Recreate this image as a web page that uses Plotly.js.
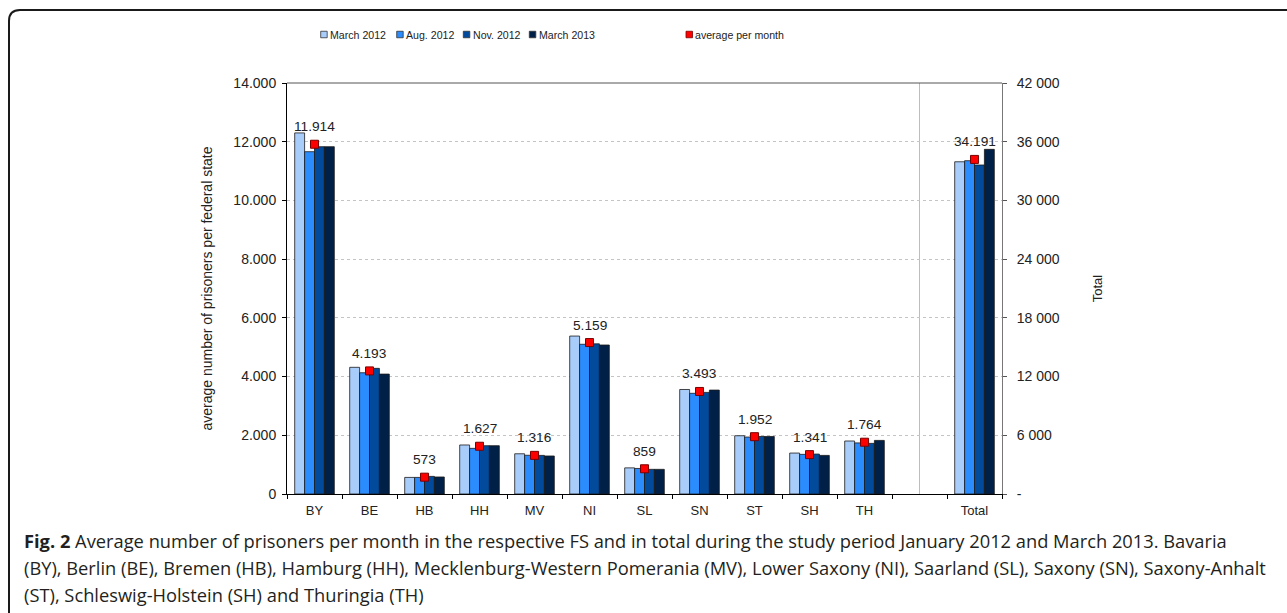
<!DOCTYPE html>
<html>
<head>
<meta charset="utf-8">
<script src="https://cdn.plot.ly/plotly-3.0.1.min.js"></script>
<style>html,body{margin:0;padding:0;background:#fff;}#chart{width:1287px;height:613px;}</style>
</head>
<body>
<div id="chart"></div>
<script>
// ---- data ----
const states = ['BY','BE','HB','HH','MV','NI','SL','SN','ST','SH','TH'];
const seriesNames = ['March 2012','Aug. 2012','Nov. 2012','March 2013'];
const avgName = 'average per month';
const march2012 = [12300, 4315, 565, 1670, 1370, 5380, 890, 3560, 1985, 1395, 1805];
const aug2012   = [11660, 4130, 565, 1555, 1320, 5100, 870, 3430, 1940, 1350, 1740];
const nov2012   = [11830, 4280, 600, 1645, 1315, 5115, 840, 3460, 1960, 1360, 1725];
const march2013 = [11830, 4085, 580, 1645, 1295, 5075, 840, 3540, 1960, 1315, 1825];
const avgPerMonth = [11914, 4193, 573, 1627, 1316, 5159, 859, 3493, 1952, 1341, 1764];
const totalLabel = 'Total';
const totalSeries = [33950, 34060, 33620, 35220]; // March 2012, Aug. 2012, Nov. 2012, March 2013
const totalAvg = 34191;
const leftTickVals = [0, 2000, 4000, 6000, 8000, 10000, 12000, 14000];
const leftTickText = ['0', '2.000', '4.000', '6.000', '8.000', '10.000', '12.000', '14.000'];
const rightTickVals = [0, 6000, 12000, 18000, 24000, 30000, 36000, 42000];
const rightTickText = ['-', '6 000', '12 000', '18 000', '24 000', '30 000', '36 000', '42 000'];
const captionLines = [
  '<b>Fig. 2</b> Average number of prisoners per month in the respective FS and in total during the study period January 2012 and March 2013. Bavaria',
  '(BY), Berlin (BE), Bremen (HB), Hamburg (HH), Mecklenburg-Western Pomerania (MV), Lower Saxony (NI), Saarland (SL), Saxony (SN), Saxony-Anhalt',
  '(ST), Schleswig-Holstein (SH) and Thuringia (TH)'
];

// ---- style ----
const colors = ['#a9cdfb', '#2b8cfd', '#024b9c', '#002047'];
const avgColor = '#ff0000', avgEdge = '#7a0000';
const stateSeries = [march2012, aug2012, nov2012, march2013];

const fmt = n => String(n).replace(/\B(?=(\d{3})+(?!\d))/g, '.');

const xState = states.map((_, i) => i);
const xTotal = states.length + 1;
const allTickVals = xState.concat([xTotal]);
const allTickText = states.concat([totalLabel]);
const boundaries = [];
for (let i = 0; i <= xTotal + 1; i++) boundaries.push(i - 0.5);

const traces = [];
stateSeries.forEach((vals, k) => {
  traces.push({
    type: 'bar', x: xState, y: vals, name: seriesNames[k], yaxis: 'y',
    offsetgroup: 'g' + k, showlegend: false,
    marker: {color: colors[k], line: {color: '#1a1a1a', width: 0.8}},
    hoverinfo: 'y+name'
  });
});
totalSeries.forEach((v, k) => {
  traces.push({
    type: 'bar', x: [xTotal], y: [v], name: seriesNames[k], yaxis: 'y2',
    offsetgroup: 'g' + k, showlegend: false,
    marker: {color: colors[k], line: {color: '#1a1a1a', width: 0.8}},
    hoverinfo: 'y+name'
  });
});
const avgMarker = {symbol: 'square', size: 8, color: avgColor, line: {color: avgEdge, width: 1}};
traces.push({
  type: 'scatter', mode: 'markers', x: xState, y: avgPerMonth, yaxis: 'y',
  name: avgName, showlegend: false, marker: avgMarker
});
traces.push({
  type: 'scatter', mode: 'markers', x: [xTotal], y: [totalAvg], yaxis: 'y2',
  name: avgName, showlegend: false, marker: avgMarker
});

const L = 287, R = 1002, T = 83, B = 494;
const px2x = p => (p - L) / (R - L);
const py2y = p => (B - p) / (B - T);

const annotations = [];
const shapes = [];
avgPerMonth.forEach((v, i) => {
  annotations.push({x: xState[i], y: v, xref: 'x', yref: 'y', text: fmt(v), showarrow: false,
    yanchor: 'middle', yshift: 17.5, font: {size: 13.7, color: '#222'}});
});
annotations.push({x: xTotal, y: totalAvg, xref: 'x', yref: 'y2', text: fmt(totalAvg), showarrow: false,
  yanchor: 'middle', yshift: 17.5, font: {size: 13.7, color: '#222'}});

// caption
const capY = [540, 567, 594];
captionLines.forEach((t, i) => {
  annotations.push({x: px2x(22), y: py2y(capY[i]), xref: 'paper', yref: 'paper', text: t,
    showarrow: false, xanchor: 'left', yanchor: 'middle', align: 'left',
    font: {family: 'Open Sans, sans-serif', size: 18.3, color: '#231f20'}});
});

// legend (drawn as key boxes + labels, like the original)
const legendLeft = [320.7, 396.7, 463.3, 529.3, 686];
const legendCY = 34.5, box = 6.5;
const legendNames = seriesNames.concat([avgName]);
const legendFill = colors.concat([avgColor]);
const legendEdge = ['#333', '#333', '#333', '#333', avgEdge];
legendNames.forEach((nm, k) => {
  const x0 = legendLeft[k];
  shapes.push({type: 'rect', xref: 'paper', yref: 'paper',
    x0: px2x(x0), x1: px2x(x0 + box), y0: py2y(legendCY + box / 2), y1: py2y(legendCY - box / 2),
    fillcolor: legendFill[k], line: {color: legendEdge[k], width: 0.8}});
  annotations.push({x: px2x(x0 + box + 0.8), y: py2y(legendCY), xref: 'paper', yref: 'paper', text: nm,
    showarrow: false, xanchor: 'left', yanchor: 'middle', font: {size: 10.6, color: '#222'}});
});

// frame lines
shapes.push({type: 'line', xref: 'paper', yref: 'paper', x0: 0, x1: 1, y0: 1, y1: 1, line: {color: '#555', width: 1}});
shapes.push({type: 'line', xref: 'x', yref: 'paper', x0: states.length, x1: states.length, y0: 0, y1: 1,
  line: {color: '#bdbdbd', width: 1}, layer: 'below'});
shapes.push({type: 'path', xref: 'paper', yref: 'paper', layer: 'above',
  path: `M ${px2x(9)},${py2y(640)} L ${px2x(9)},${py2y(21)} Q ${px2x(9)},${py2y(10)} ${px2x(20)},${py2y(10)} L ${px2x(1300)},${py2y(10)}`,
  line: {color: '#1a1a1a', width: 2}});

const layout = {
  width: 1287, height: 613,
  margin: {l: L, r: 1287 - R, t: T, b: 613 - B, pad: 0},
  paper_bgcolor: '#fff', plot_bgcolor: '#fff',
  font: {family: 'Liberation Sans, Arial, sans-serif', size: 14, color: '#222'},
  barmode: 'group', bargap: 0.28, bargroupgap: 0,
  showlegend: false,
  xaxis: {
    range: [-0.5, xTotal + 0.5], tickmode: 'array', tickvals: allTickVals, ticktext: allTickText,
    ticks: 'outside', ticklen: 4, tickcolor: 'rgba(0,0,0,0)', tickfont: {size: 13},
    minor: {tickmode: 'array', tickvals: boundaries, ticks: 'outside', ticklen: 4, tickcolor: '#000', showgrid: false},
    showline: true, linecolor: '#000', linewidth: 1, mirror: false,
    showgrid: false, zeroline: false, fixedrange: true
  },
  yaxis: {
    range: [0, 14000], tickmode: 'array', tickvals: leftTickVals, ticktext: leftTickText,
    ticks: 'outside', ticklen: 4, tickcolor: '#000', tickfont: {size: 14}, ticklabelstandoff: 3,
    showline: true, linecolor: '#000', linewidth: 1,
    showgrid: true, gridcolor: '#c4c4c4', griddash: 'dot', gridwidth: 1, zeroline: false,
    title: {text: 'average number of prisoners per federal state', font: {size: 14, color: '#222'}, standoff: 17}
  },
  yaxis2: {
    overlaying: 'y', side: 'right',
    range: [0, 42000], tickmode: 'array', tickvals: rightTickVals, ticktext: rightTickText,
    ticks: 'outside', ticklen: 4, tickcolor: '#555', tickfont: {size: 14}, ticklabelstandoff: 7,
    showline: true, linecolor: '#777', linewidth: 1,
    showgrid: false, zeroline: false,
    title: {text: 'Total', font: {size: 13, color: '#222'}, standoff: 34}
  },
  shapes: shapes,
  annotations: annotations
};

Plotly.newPlot('chart', traces, layout, {displayModeBar: false, staticPlot: true});
</script>
</body>
</html>
